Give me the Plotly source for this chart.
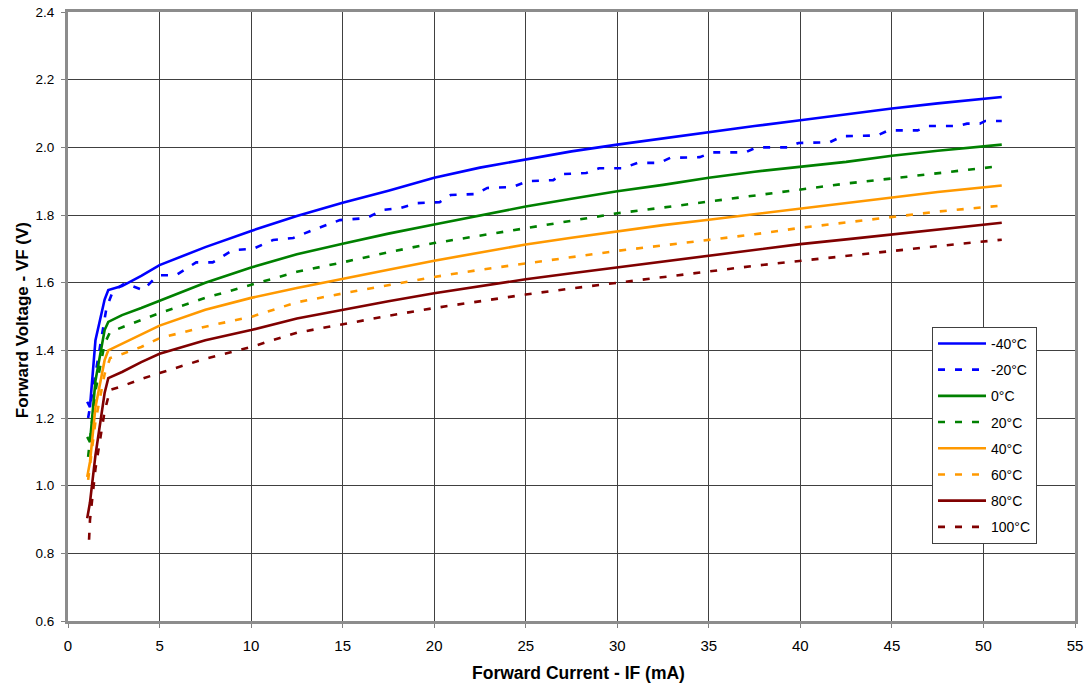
import plotly.graph_objects as go

# ---------------- data ----------------
x_std = [1.05, 1.2, 1.5, 2.0, 2.2, 2.95, 4, 5, 7.5, 10, 12.5, 15, 17.5, 20, 22.5,
         25, 27.5, 30, 32.5, 35, 37.5, 40, 42.5, 45, 47.5, 51]
x_dash = [1.1, 1.5, 2.0, 2.3, 3.0, 4, 5, 7.5, 10, 12.5, 15, 17.5, 20, 22.5,
          25, 27.5, 30, 32.5, 35, 37.5, 40, 42.5, 45, 47.5, 51]

v_m40 = [1.248, 1.232, 1.43, 1.55, 1.578, 1.59, 1.62, 1.652, 1.705, 1.753, 1.797, 1.836,
         1.872, 1.91, 1.94, 1.965, 1.988, 2.008, 2.027, 2.045, 2.063, 2.08, 2.098,
         2.115, 2.13, 2.149]

x_m20 = [1.1, 1.5, 2.1, 2.45, 3.1, 4.1, 4.65, 5.0, 5.9, 7.0, 7.9, 9.0, 10.1, 11.2, 12.3,
         13.4, 14.85, 16.3, 17.2, 18.1, 19.05, 20.3, 20.9, 22.3, 22.9, 24.3, 25.1, 26.5,
         27.0, 28.3, 29.0, 30.3, 31.1, 32.3, 32.9, 34.5, 35.2, 37.0, 37.6, 39.3, 39.9,
         41.6, 42.3, 44.2, 44.8, 46.4, 47.0, 48.6, 49.1, 49.8, 50.1, 51.0]
v_m20 = [1.20, 1.33, 1.525, 1.575, 1.598, 1.578, 1.608, 1.622, 1.622, 1.66, 1.66, 1.696,
         1.70, 1.726, 1.732, 1.756, 1.785, 1.791, 1.815, 1.82, 1.835, 1.838, 1.859, 1.862,
         1.88, 1.883, 1.90, 1.903, 1.921, 1.924, 1.938, 1.938, 1.954, 1.954, 1.969, 1.971,
         1.985, 1.985, 2.0, 2.0, 2.013, 2.015, 2.033, 2.035, 2.05, 2.05, 2.063, 2.063,
         2.07, 2.07, 2.078, 2.078]

v_0 = [1.144, 1.129, 1.31, 1.46, 1.484, 1.504, 1.525, 1.547, 1.6, 1.645, 1.684, 1.715,
       1.745, 1.772, 1.798, 1.825, 1.848, 1.87, 1.889, 1.91, 1.928, 1.942, 1.957,
       1.975, 1.99, 2.008]

v_20 = [1.085, 1.28, 1.42, 1.454, 1.469, 1.49, 1.51, 1.555, 1.593, 1.632, 1.66, 1.69,
        1.717, 1.74, 1.761, 1.783, 1.805, 1.822, 1.84, 1.857, 1.876, 1.893, 1.908,
        1.924, 1.945]

v_40 = [1.026, 1.07, 1.232, 1.371, 1.40, 1.42, 1.447, 1.473, 1.52, 1.555, 1.584, 1.61,
        1.638, 1.665, 1.69, 1.713, 1.733, 1.752, 1.77, 1.786, 1.802, 1.818, 1.836,
        1.852, 1.868, 1.887]

v_60 = [1.017, 1.19, 1.33, 1.377, 1.39, 1.41, 1.436, 1.47, 1.499, 1.542, 1.568, 1.593,
        1.617, 1.638, 1.657, 1.676, 1.694, 1.71, 1.726, 1.743, 1.762, 1.778, 1.793,
        1.81, 1.828]

v_80 = [0.904, 0.95, 1.09, 1.274, 1.318, 1.336, 1.365, 1.39, 1.43, 1.46, 1.494, 1.52,
        1.545, 1.569, 1.59, 1.61, 1.628, 1.645, 1.662, 1.681, 1.698, 1.714, 1.728,
        1.743, 1.758, 1.777]

x_100 = [1.15, 1.2, 1.5, 2.0, 2.3, 3.0, 4, 5, 7.5, 10, 12.5, 15, 17.5, 20, 22.5,
         25, 27.5, 30, 32.5, 35, 37.5, 40, 42.5, 45, 47.5, 51]
v_100 = [0.84, 0.898, 1.05, 1.22, 1.283, 1.295, 1.315, 1.333, 1.375, 1.41, 1.452, 1.478,
         1.502, 1.525, 1.546, 1.565, 1.583, 1.599, 1.615, 1.633, 1.65, 1.665, 1.68,
         1.694, 1.708, 1.727]

names = ["-40°C", "-20°C", "0°C", "20°C", "40°C", "60°C", "80°C", "100°C"]
xs = [x_std, x_m20, x_std, x_dash, x_std, x_dash, x_std, x_100]
vs = [v_m40, v_m20, v_0, v_20, v_40, v_60, v_80, v_100]
colors = ["#0000FF", "#0000FF", "#008000", "#008000", "#FF9900", "#FF9900",
          "#800000", "#800000"]
dashes = ["solid", "7px,10px", "solid", "7px,10px", "solid", "7px,10px",
          "solid", "7px,10px"]

x_ticks = list(range(0, 56, 5))
y_ticks = [0.6, 0.8, 1.0, 1.2, 1.4, 1.6, 1.8, 2.0, 2.2, 2.4]
x_title = "Forward Current - IF (mA)"
y_title = "Forward Voltage - VF (V)"

# ---------------- figure ----------------
fig = go.Figure()
for i, (n, x, v, c, d) in enumerate(zip(names, xs, vs, colors, dashes)):
    fig.add_trace(go.Scatter(
        x=x, y=v, name=n, mode="lines", legendgroup=f"g{i}",
        line=dict(color=c, width=2.6, dash=d, shape="linear"),
    ))

font_family = "Liberation Sans, Arial, sans-serif"
fig.update_layout(
    width=1090, height=687,
    margin=dict(l=68, r=15, t=12, b=66, autoexpand=False),
    paper_bgcolor="white", plot_bgcolor="white",
    font=dict(family=font_family, color="black", size=13),
    showlegend=True,
    legend=dict(
        x=0.858, y=0.483, xanchor="left", yanchor="top",
        bgcolor="white", bordercolor="#404040", borderwidth=1,
        font=dict(size=14, family=font_family),
        tracegroupgap=5, itemwidth=48,
    ),
    annotations=[
        dict(text=f"<b>{x_title}</b>", xref="paper", yref="paper", x=0.5065, y=0,
             xanchor="center", yanchor="middle", yshift=-52, showarrow=False,
             font=dict(size=17.5, family=font_family, color="black")),
        dict(text=f"<b>{y_title}</b>", xref="paper", yref="paper", x=0, y=0.494,
             xanchor="center", yanchor="middle", xshift=-46, textangle=-90,
             showarrow=False,
             font=dict(size=17, family=font_family, color="black")),
    ],
)
fig.update_xaxes(
    range=[0, 55], tickvals=x_ticks, ticktext=[str(t) for t in x_ticks],
    showgrid=True, gridcolor="#404040", gridwidth=1,
    showline=True, linecolor="#8c8c8c", linewidth=3, mirror=True,
    ticks="outside", ticklen=4, tickcolor="#808080",
    zeroline=False, automargin=False, ticklabelstandoff=5,
    ticklabeloverflow="allow",
    tickfont=dict(size=15),
)
fig.update_yaxes(
    range=[0.6, 2.4], tickvals=y_ticks, ticktext=[f"{t:.1f}" for t in y_ticks],
    showgrid=True, gridcolor="#404040", gridwidth=1,
    showline=True, linecolor="#8c8c8c", linewidth=3, mirror=True,
    ticks="outside", ticklen=4, tickcolor="#808080",
    zeroline=False, automargin=False, ticklabelstandoff=4,
    ticklabeloverflow="allow",
    tickfont=dict(size=13.5),
)

fig.write_html("out.html", config={"displayModeBar": False},
               post_script="document.body.style.margin='0';")
